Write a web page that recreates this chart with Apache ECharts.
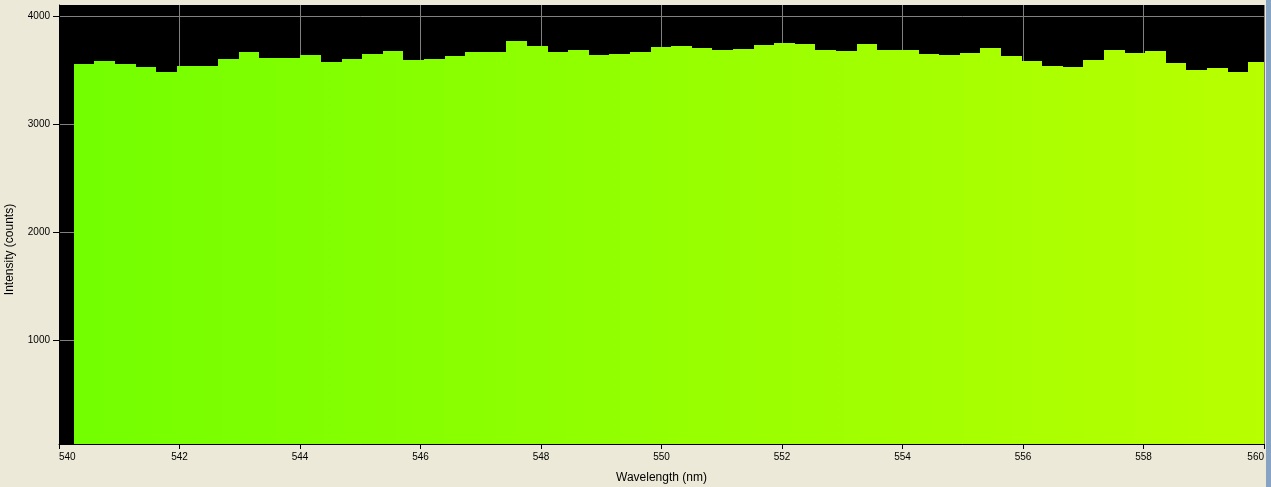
<!DOCTYPE html>
<html>
<head>
<meta charset="utf-8">
<script src="https://cdn.jsdelivr.net/npm/echarts@6/dist/echarts.min.js"></script>
<style>
  html, body { margin: 0; padding: 0; background: #ece9d8; }
  #chart { width: 1271px; height: 487px; }
</style>
</head>
<body>
<div id="chart"></div>
<script>
// Left edge (nm) of each spectrometer bin
const binStart = [
  540.244, 540.586, 540.928, 541.270, 541.612, 541.954, 542.296, 542.638, 542.980, 543.322,
  543.664, 544.006, 544.348, 544.690, 545.032, 545.374, 545.716, 546.058, 546.400, 546.742,
  547.084, 547.426, 547.768, 548.110, 548.452, 548.794, 549.136, 549.478, 549.820, 550.162,
  550.504, 550.846, 551.188, 551.530, 551.872, 552.214, 552.556, 552.898, 553.240, 553.582,
  553.924, 554.266, 554.608, 554.950, 555.292, 555.634, 555.976, 556.318, 556.660, 557.002,
  557.344, 557.686, 558.028, 558.370, 558.712, 559.054, 559.396, 559.738
];
// Intensity (counts) of each bin
const intensity = [
  3558, 3586, 3558, 3531, 3484, 3540, 3540, 3605, 3669, 3614,
  3614, 3642, 3577, 3605, 3651, 3679, 3595, 3605, 3632, 3669,
  3669, 3771, 3725, 3669, 3688, 3642, 3651, 3669, 3716, 3725,
  3706, 3688, 3697, 3734, 3753, 3744, 3688, 3679, 3744, 3688,
  3688, 3651, 3642, 3660, 3706, 3632, 3586, 3540, 3531, 3595,
  3688, 3660, 3679, 3568, 3503, 3521, 3484, 3577
];
const yTicks = [1000, 2000, 3000, 4000];
const xMin = 540, xMax = 560, xStep = 2;
const yMin = 37, yMax = 4105;

const data = binStart.map((s, i) => {
  const w = i < binStart.length - 1 ? binStart[i + 1] - s : s - binStart[i - 1];
  return [s, s + w, intensity[i]];
});

const chart = echarts.init(document.getElementById('chart'));
const font = 'Liberation Sans, Arial, sans-serif';

function renderItem(params, api) {
  const x0 = api.value(0), x1 = api.value(1), y = api.value(2);
  const pTop = api.coord([x0, y]);
  const pBot = api.coord([x1, yMin]);
  const left = Math.round(pTop[0]);
  const right = Math.round(pBot[0]);
  const top = Math.round(pTop[1]);
  const cs = params.coordSys;
  const rect = echarts.graphic.clipRectByRect(
    { x: left, y: top, width: right - left, height: pBot[1] - top },
    { x: cs.x, y: cs.y, width: cs.width, height: cs.height }
  );
  if (!rect) return;
  const gx0 = api.coord([xMin, yMin])[0];
  const gx1 = api.coord([xMax, yMin])[0];
  return {
    type: 'rect',
    shape: rect,
    style: {
      fill: new echarts.graphic.LinearGradient(gx0, 0, gx1, 0, [
        { offset: 0, color: '#72ff00' },
        { offset: 1, color: '#b8ff00' }
      ], true)
    }
  };
}

chart.setOption({
  backgroundColor: '#ece9d8',
  animation: false,
  grid: {
    left: 59, right: 7, top: 5, bottom: 43,
    outerBoundsMode: 'none', containLabel: false,
    show: true, backgroundColor: '#000000', borderWidth: 0
  },
  xAxis: {
    type: 'value', min: xMin, max: xMax, interval: xStep,
    name: 'Wavelength (nm)', nameLocation: 'middle', nameGap: 28,
    nameTextStyle: { color: '#000', fontFamily: font, fontSize: 12 },
    axisLine: { show: true, lineStyle: { color: '#000', width: 1 } },
    axisTick: { show: true, length: 5, lineStyle: { color: '#000' } },
    axisLabel: { color: '#000', fontFamily: font, fontSize: 10, margin: 8,
      alignMinLabel: 'left', alignMaxLabel: 'right',
      formatter: v => String(v) },
    splitLine: { show: true, lineStyle: { color: '#808080', width: 1 } }
  },
  yAxis: {
    type: 'value', min: yMin, max: yMax,
    name: 'Intensity (counts)', nameLocation: 'middle', nameGap: 43,
    nameTextStyle: { color: '#000', fontFamily: font, fontSize: 12, padding: [0, 50, 0, 0] },
    axisLine: { show: true, lineStyle: { color: '#000', width: 1 } },
    axisTick: { show: true, length: 6, lineStyle: { color: '#000' }, customValues: yTicks },
    axisLabel: { color: '#000', fontFamily: font, fontSize: 10, margin: 9, customValues: yTicks,
      formatter: v => String(v) },
    splitLine: { show: true, lineStyle: { color: '#808080', width: 1 } }
  },
  graphic: [{
    type: 'rect', right: 0, top: 0,
    shape: { width: 5, height: 487 },
    style: { fill: '#86a3c3' }
  }],
  series: [{
    type: 'custom',
    renderItem: renderItem,
    encode: { x: [0, 1], y: 2 },
    data: data
  }]
});
</script>
</body>
</html>
